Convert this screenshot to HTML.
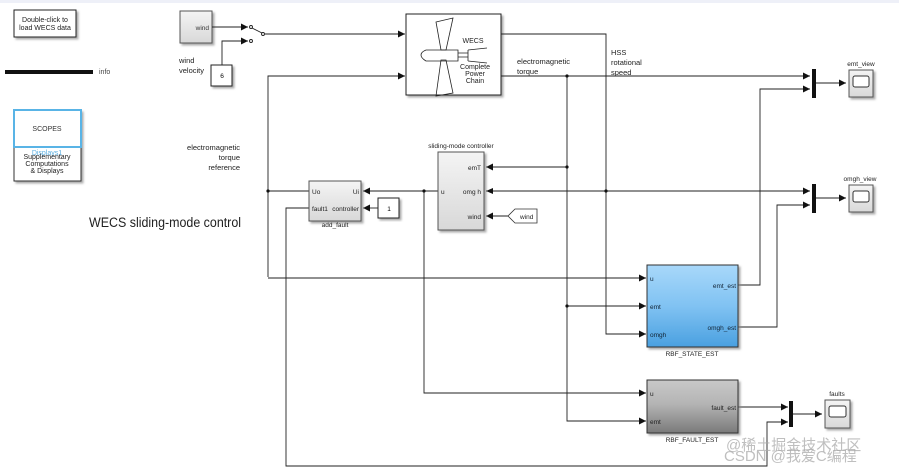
<!DOCTYPE html>
<html><head><meta charset="utf-8"><style>
html,body{margin:0;padding:0;background:#fff;}
svg{display:block;font-family:"Liberation Sans","Noto Sans CJK SC",sans-serif;}
</style></head><body>
<svg width="899" height="472" viewBox="0 0 899 472" xmlns="http://www.w3.org/2000/svg">
<defs>
<marker id="a" markerWidth="8" markerHeight="8" refX="7" refY="4" orient="auto" markerUnits="userSpaceOnUse"><path d="M0,0.5 L7,4 L0,7.5z" fill="#111"/></marker>
<linearGradient id="g1" x1="0" y1="0" x2="0" y2="1"><stop offset="0" stop-color="#f4f4f4"/><stop offset="1" stop-color="#d8d8d8"/></linearGradient>
<linearGradient id="gb" x1="0" y1="0" x2="0" y2="1"><stop offset="0" stop-color="#a8d8fa"/><stop offset="0.5" stop-color="#80c2f2"/><stop offset="1" stop-color="#4aa0e0"/></linearGradient>
<linearGradient id="gg" x1="0" y1="0" x2="0" y2="1"><stop offset="0" stop-color="#c8c8c8"/><stop offset="0.45" stop-color="#b4b4b4"/><stop offset="1" stop-color="#7a7a7a"/></linearGradient>
<filter id="sh" x="-10%" y="-10%" width="130%" height="130%"><feDropShadow dx="2" dy="2" stdDeviation="1" flood-color="#888" flood-opacity="0.7"/></filter>
</defs>
<rect x="0" y="0" width="899" height="3" fill="#eef0f8"/>

<rect x="14" y="10" width="62" height="27" fill="#fff" stroke="#222" filter="url(#sh)"/>
<text x="45" y="22" font-size="7" text-anchor="middle" fill="#222">Double-click to</text>
<text x="45" y="30" font-size="7" text-anchor="middle" fill="#222">load WECS data</text>
<rect x="5" y="70" width="88" height="4" fill="#111"/>
<text x="99" y="74" font-size="7" fill="#444">info</text>
<rect x="14" y="110" width="67" height="71" fill="#fff" stroke="#333" filter="url(#sh)"/>
<rect x="14" y="110" width="67" height="37" fill="#fff" stroke="#59b4e6" stroke-width="2"/>
<text x="47" y="131" font-size="7" text-anchor="middle" fill="#333">SCOPES</text>
<text x="47" y="155" font-size="7" text-anchor="middle" fill="#5aaee0">Displays1</text>
<text x="47" y="159" font-size="7" text-anchor="middle" fill="#222">Supplementary</text>
<text x="47" y="166" font-size="7" text-anchor="middle" fill="#222">Computations</text>
<text x="47" y="173" font-size="7" text-anchor="middle" fill="#222">&amp; Displays</text>
<text x="89" y="227" font-size="13.5" fill="#222" textLength="152" lengthAdjust="spacingAndGlyphs">WECS sliding-mode control</text>
<text x="240" y="150" font-size="7.5" text-anchor="end" fill="#222">electromagnetic</text>
<text x="240" y="160" font-size="7.5" text-anchor="end" fill="#222">torque</text>
<text x="240" y="170" font-size="7.5" text-anchor="end" fill="#222">reference</text>

<rect x="180" y="11" width="32" height="32" fill="url(#g1)" stroke="#555" filter="url(#sh)"/>
<text x="209" y="30" font-size="6.5" text-anchor="end" fill="#333">wind</text>
<text x="179" y="63" font-size="7.5" fill="#222">wind</text>
<text x="179" y="73" font-size="7.5" fill="#222">velocity</text>
<rect x="211" y="65" width="21" height="21" fill="#fff" stroke="#222" filter="url(#sh)"/>
<text x="222" y="78" font-size="6.5" text-anchor="middle">6</text>
<g stroke="#222" fill="none" stroke-width="0.9">
<path d="M212,27 H248" marker-end="url(#a)"/>
<path d="M222,65 V41 H248" marker-end="url(#a)"/>
<circle cx="251" cy="27" r="1.5"/><circle cx="251" cy="41" r="1.5"/><circle cx="263" cy="34" r="1.5"/>
<path d="M252,28 L262,33"/>
<path d="M265,34 H405" marker-end="url(#a)"/>
<path d="M268,277 V76 H405" marker-end="url(#a)"/>
</g>

<rect x="406" y="14" width="95" height="81" fill="#fff" stroke="#222" filter="url(#sh)"/>
<g stroke="#222" fill="none" stroke-width="0.8">
<path d="M436,22 L453,18 L446,50 L441,50 Z"/>
<path d="M441,60 L446,60 L453,93 L436,96 Z"/>
<path d="M426,50 H458 V61 H426 Q421,58 421,55 Q421,52 426,50 Z"/>
<path d="M458,53 H468 M458,57 H468"/>
<path d="M468,50 L487,48 M468,61 L487,63 M468,50 V61"/>
</g>
<text x="473" y="43" font-size="7" text-anchor="middle" fill="#222">WECS</text>
<text x="475" y="69" font-size="7" text-anchor="middle" fill="#222">Complete</text>
<text x="475" y="76" font-size="7" text-anchor="middle" fill="#222">Power</text>
<text x="475" y="83" font-size="7" text-anchor="middle" fill="#222">Chain</text>
<text x="517" y="64" font-size="7.5" fill="#222">electromagnetic</text>
<text x="517" y="74" font-size="7.5" fill="#222">torque</text>
<text x="611" y="55" font-size="7.5" fill="#222">HSS</text>
<text x="611" y="65" font-size="7.5" fill="#222">rotational</text>
<text x="611" y="75" font-size="7.5" fill="#222">speed</text>

<g stroke="#222" fill="none" stroke-width="0.9">
<path d="M501,34 H606 V334 H646" marker-end="url(#a)"/>
<path d="M501,76 H810" marker-end="url(#a)"/>
<path d="M567,76 V421 H646" marker-end="url(#a)"/>
<path d="M567,306 H646" marker-end="url(#a)"/>
<path d="M567,167 H486" marker-end="url(#a)"/>
<path d="M486,191 H810" marker-end="url(#a)"/>
<path d="M738,285 H760 V89 H810" marker-end="url(#a)"/>
<path d="M738,327 H777 V205 H810" marker-end="url(#a)"/>
<path d="M816,83 H846" marker-end="url(#a)"/>
<path d="M816,198 H846" marker-end="url(#a)"/>
<path d="M508,216 H486" marker-end="url(#a)"/>
<path d="M438,191 H363" marker-end="url(#a)"/>
<path d="M378,208 H363" marker-end="url(#a)"/>
<path d="M309,191 H268"/>
<path d="M424,191 V393 H646" marker-end="url(#a)"/>
<path d="M268,278 H646" marker-end="url(#a)"/>
<path d="M309,208 H286 V466 H767 V422 H788" marker-end="url(#a)"/>
<path d="M738,407 H788" marker-end="url(#a)"/>
<path d="M793,414 H822" marker-end="url(#a)"/>
</g>
<path d="M486,191 L493,188 V194 Z" fill="#111"/>
<g fill="#111"><circle cx="567" cy="76" r="1.6"/><circle cx="567" cy="167" r="1.6"/><circle cx="567" cy="306" r="1.6"/><circle cx="606" cy="191" r="1.6"/><circle cx="424" cy="191" r="1.6"/><circle cx="268" cy="191" r="1.6"/></g>

<rect x="812" y="69" width="4" height="29" fill="#111"/>
<rect x="812" y="184" width="4" height="29" fill="#111"/>
<rect x="789" y="401" width="4" height="26" fill="#111"/>
<g>
<rect x="849" y="70" width="24" height="27" fill="url(#g1)" stroke="#555" filter="url(#sh)"/>
<rect x="853" y="76" width="16" height="11" rx="2" fill="#fff" stroke="#333"/>
<text x="861" y="66" font-size="6.5" text-anchor="middle" fill="#222">emt_view</text>
<rect x="849" y="185" width="24" height="27" fill="url(#g1)" stroke="#555" filter="url(#sh)"/>
<rect x="853" y="191" width="16" height="11" rx="2" fill="#fff" stroke="#333"/>
<text x="860" y="181" font-size="6.5" text-anchor="middle" fill="#222">omgh_view</text>
<rect x="825" y="400" width="25" height="28" fill="url(#g1)" stroke="#555" filter="url(#sh)"/>
<rect x="829" y="406" width="17" height="11" rx="2" fill="#fff" stroke="#333"/>
<text x="837" y="396" font-size="6.5" text-anchor="middle" fill="#222">faults</text>
</g>

<text x="461" y="148" font-size="6.5" text-anchor="middle" fill="#222">sliding-mode controller</text>
<rect x="438" y="152" width="46" height="78" fill="url(#g1)" stroke="#555" filter="url(#sh)"/>
<text x="441" y="194" font-size="6.5" fill="#222">u</text>
<text x="481" y="170" font-size="6.5" text-anchor="end" fill="#222">emT</text>
<text x="481" y="194" font-size="6.5" text-anchor="end" fill="#222">omg h</text>
<text x="481" y="219" font-size="6.5" text-anchor="end" fill="#222">wind</text>
<path d="M508,216 L515,209 H537 V223 H515 Z" fill="#fff" stroke="#333" stroke-width="0.8"/>
<text x="520" y="219" font-size="6.5" fill="#222">wind</text>

<rect x="309" y="181" width="52" height="40" fill="url(#g1)" stroke="#555" filter="url(#sh)"/>
<text x="312" y="194" font-size="6.5" fill="#222">Uo</text>
<text x="312" y="211" font-size="6.5" fill="#222">fault1</text>
<text x="359" y="194" font-size="6.5" text-anchor="end" fill="#222">Ui</text>
<text x="359" y="211" font-size="6.5" text-anchor="end" fill="#222">controller</text>
<text x="335" y="227" font-size="6.5" text-anchor="middle" fill="#222">add_fault</text>
<rect x="378" y="198" width="21" height="20" fill="#fff" stroke="#222" filter="url(#sh)"/>
<text x="389" y="211" font-size="6.5" text-anchor="middle">1</text>

<rect x="647" y="265" width="91" height="82" fill="url(#gb)" stroke="#333" filter="url(#sh)"/>
<text x="650" y="281" font-size="6.5" fill="#123">u</text>
<text x="650" y="309" font-size="6.5" fill="#123">emt</text>
<text x="650" y="337" font-size="6.5" fill="#123">omgh</text>
<text x="736" y="288" font-size="6.5" text-anchor="end" fill="#123">emt_est</text>
<text x="736" y="330" font-size="6.5" text-anchor="end" fill="#123">omgh_est</text>
<text x="692" y="356" font-size="6.5" text-anchor="middle" fill="#222">RBF_STATE_EST</text>

<rect x="647" y="380" width="91" height="53" fill="url(#gg)" stroke="#333" filter="url(#sh)"/>
<text x="650" y="396" font-size="6.5" fill="#222">u</text>
<text x="650" y="424" font-size="6.5" fill="#222">emt</text>
<text x="736" y="410" font-size="6.5" text-anchor="end" fill="#222">fault_est</text>
<text x="692" y="442" font-size="6.5" text-anchor="middle" fill="#222">RBF_FAULT_EST</text>

<text x="726" y="450" font-size="15" fill="#aaa" fill-opacity="0.75">@稀土掘金技术社区</text>
<text x="724" y="461" font-size="15" fill="#aaa" fill-opacity="0.75">CSDN @我爱C编程</text>
</svg>
</body></html>
